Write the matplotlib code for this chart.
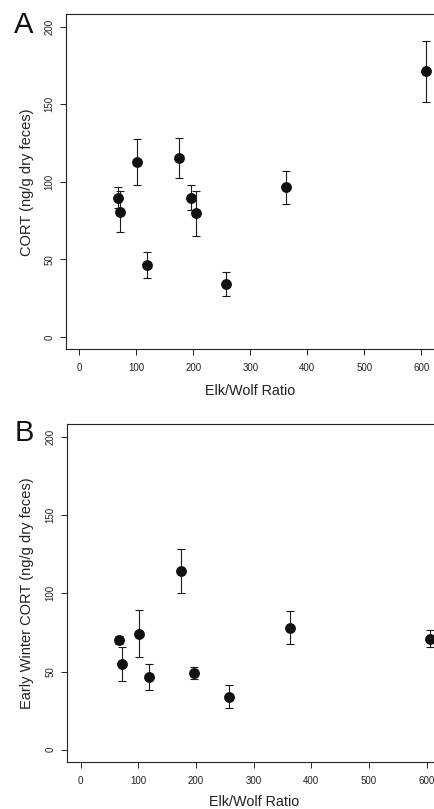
import matplotlib as mpl
mpl.use('Agg')
import matplotlib.pyplot as plt
import numpy as np

plt.rcParams['font.family'] = ['Liberation Sans', 'DejaVu Sans']

# panel A: all-season CORT vs elk/wolf ratio
ratio_a = [67, 71, 101, 119, 174, 196, 205, 258, 363, 608]
cort_a = [89.8, 80.7, 112.6, 46.4, 115.2, 89.8, 79.6, 34.1, 96.4, 171.3]
se_a = [6.8, 13.1, 14.7, 8.2, 12.9, 8.0, 14.5, 7.5, 10.7, 19.8]

# panel B: early winter CORT
ratio_b = [67, 71, 101, 119, 174, 196, 258, 363, 606]
cort_b = [70.4, 54.9, 74.1, 46.3, 114.0, 49.1, 33.9, 78.1, 71.1]
se_b = [2.6, 10.8, 15.0, 8.3, 14.0, 3.7, 7.5, 10.3, 5.3]

x_ticks = [0, 100, 200, 300, 400, 500, 600]
y_ticks = [0, 50, 100, 150, 200]

W, H = 434, 809
fig = plt.figure(figsize=(W / 100, H / 100), dpi=100)


def px_axes(left, top, right, bottom):
    return fig.add_axes([left / W, 1 - bottom / H, (right - left) / W, (bottom - top) / H])


def draw_panel(ax, x, y, err, ylabel, ylab_x, xlab_y):
    ax.errorbar(x, y, yerr=err, fmt='none', ecolor='#1a1a1a', elinewidth=0.8,
                capsize=3.2, capthick=0.8, zorder=2)
    ax.plot(x, y, 'o', color='#111111', markersize=6.8, zorder=3)
    ax.set_xlim(-24, 624)
    ax.set_ylim(-8, 208)
    ax.set_xticks(x_ticks)
    ax.set_yticks(y_ticks)
    ax.tick_params(direction='out', length=4.2, width=0.7, labelsize=7,
                   labelcolor='#222222', color='#222222')
    ax.tick_params(axis='x', pad=6)
    ax.tick_params(axis='y', pad=4)
    for lab in ax.get_yticklabels():
        lab.set_rotation(90)
        lab.set_va('center')
    for s in ax.spines.values():
        s.set_linewidth(0.8)
        s.set_color('#222222')
    ax.set_xlabel('Elk/Wolf Ratio', fontsize=10.4, color='#222222')
    ax.xaxis.set_label_coords(0.5, xlab_y)
    ax.set_ylabel(ylabel, fontsize=10.5, color='#222222', va='center')
    ax.yaxis.set_label_coords(ylab_x, 0.5)
    return ax


ax1 = px_axes(65.7, 14.3, 435.0, 349.3)
draw_panel(ax1, ratio_a, cort_a, se_a, 'CORT (ng/g dry feces)', -0.106, -0.105)
ax2 = px_axes(66.7, 424.3, 440.6, 762.3)
draw_panel(ax2, ratio_b, cort_b, se_b, 'Early Winter CORT (ng/g dry feces)', -0.107, -0.097)

fig.text(14 / W, 1 - 33.3 / H, 'A', fontsize=21, ha='left', va='baseline', color='#111111')
fig.text(15 / W, 1 - 440.7 / H, 'B', fontsize=21, ha='left', va='baseline', color='#111111')

fig.savefig('out.png', dpi=100)
